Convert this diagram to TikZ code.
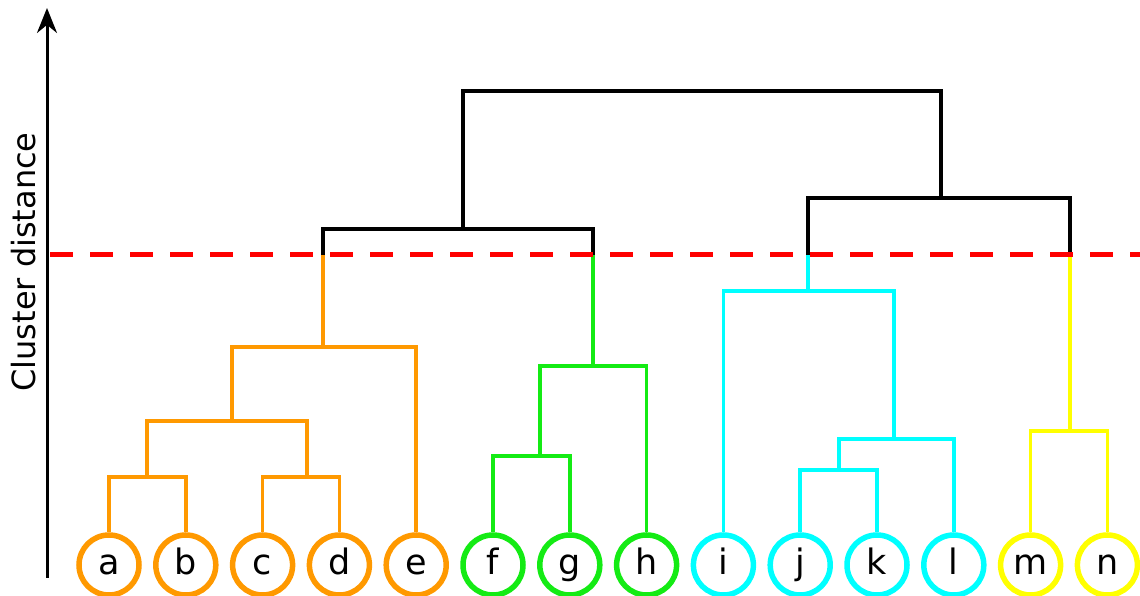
\documentclass[tikz,border=0pt]{standalone}
\usepackage{fontspec}
\setmainfont{DejaVu Sans}
\usetikzlibrary{arrows.meta}

\definecolor{orangeC}{RGB}{255,153,0}
\definecolor{vertC}{RGB}{20,235,20}
\definecolor{cyanC}{RGB}{0,255,255}
\definecolor{jauneC}{RGB}{255,255,0}

\begin{document}
\begin{tikzpicture}[x=1pt,y=1pt,
    feuille/.style={circle,draw=#1,line width=5.5pt,minimum size=60pt,inner sep=0pt,
      text height=24pt,text depth=4pt,font=\fontsize{35}{35}\selectfont},
    branche/.style={draw=#1,line width=3.5pt},
    seuil/.style={draw=red,line width=5pt,dash pattern=on 23pt off 17pt}]
    \useasboundingbox (0,0) rectangle (1140,596);

    % axe
    \coordinate (bas) at (47,18);
    \coordinate (haut) at (47,588);
    \draw[-{Stealth[length=25pt,width=20pt]},line width=3pt] (bas) -- (haut);
    \node[rotate=90,inner sep=0pt,font=\fontsize{32}{32}\selectfont] (titre) at (23.5,334) {Cluster distance};

    % feuilles
    \foreach \nom/\coul [count=\i from 0] in {a/orangeC,b/orangeC,c/orangeC,d/orangeC,e/orangeC,
        f/vertC,g/vertC,h/vertC,i/cyanC,j/cyanC,k/cyanC,l/cyanC,m/jauneC,n/jauneC}{
      \node[feuille=\coul] (\nom) at (109+76.8*\i,31) {\nom};
    }

    % points de fusion
    \coordinate (ab) at (147,119);
    \coordinate (cd) at (307,119);
    \coordinate (abcd) at (232,175);
    \coordinate (abcde) at (323,249);
    \coordinate (fg) at (540,140);
    \coordinate (fgh) at (593,230);
    \coordinate (jk) at (839,126);
    \coordinate (jkl) at (894,157);
    \coordinate (ijkl) at (808,305);
    \coordinate (mn) at (1070,165);
    \coordinate (gauche) at (463,367);
    \coordinate (droite) at (941,398);
    \coordinate (racine) at (702,505);
    \coordinate (seuilG) at (50,341);
    \coordinate (seuilD) at (1140,341);

    % groupe orange
    \draw[branche=orangeC] (a.north) |- (ab) -| (b.north);
    \draw[branche=orangeC] (c.north) |- (cd) -| (d.north);
    \draw[branche=orangeC] (ab) |- (abcd) -| (cd);
    \draw[branche=orangeC] (abcd) |- (abcde) -| (e.north);
    \draw[branche=orangeC] (abcde) -- (abcde |- seuilG);

    % groupe vert
    \draw[branche=vertC] (f.north) |- (fg) -| (g.north);
    \draw[branche=vertC] (fg) |- (fgh) -| (h.north);
    \draw[branche=vertC] (fgh) -- (fgh |- seuilG);

    % groupe cyan
    \draw[branche=cyanC] (j.north) |- (jk) -| (k.north);
    \draw[branche=cyanC] (jk) |- (jkl) -| (l.north);
    \draw[branche=cyanC] (i.north) |- (ijkl) -| (jkl);
    \draw[branche=cyanC] (ijkl) -- (ijkl |- seuilG);

    % groupe jaune
    \draw[branche=jauneC] (m.north) |- (mn) -| (n.north);
    \draw[branche=jauneC] (mn) -- (mn |- seuilG);

    % au-dessus du seuil
    \draw[branche=black,line width=4pt] (abcde |- seuilG) |- (gauche) -| (fgh |- seuilG);
    \draw[branche=black,line width=4pt] (ijkl |- seuilG) |- (droite) -| (mn |- seuilG);
    \draw[branche=black,line width=4pt] (gauche) |- (racine) -| (droite);

    % seuil de coupe
    \draw[seuil] (seuilG) -- (seuilD);

  \end{tikzpicture}
\end{document}
